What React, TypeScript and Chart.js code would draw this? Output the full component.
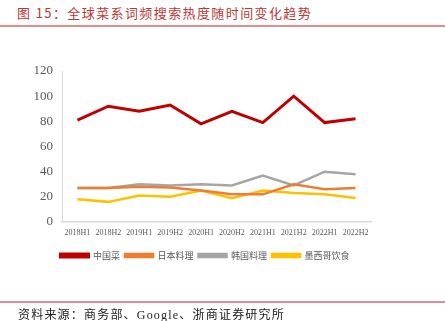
import React, { useEffect, useRef } from "react";
import { Chart, registerables } from "chart.js";

Chart.register(...registerables);

const categories = ["2018H1", "2018H2", "2019H1", "2019H2", "2020H1", "2020H2", "2021H1", "2021H2", "2022H1", "2022H2"];
const chinese = [81, 92, 88, 93, 78, 88, 79, 100, 79, 82];
const japanese = [27, 27, 28, 27.5, 25, 22, 22, 30, 26, 27];
const korean = [27, 27, 30, 29, 30, 29, 37, 29, 40, 38];
const mexican = [18, 16, 21, 20, 25, 19, 25, 23, 22, 19];
const seriesNames = ["中国菜", "日本料理", "韩国料理", "墨西哥饮食"];
const seriesColors = ["#C00000", "#ED7D31", "#A5A5A5", "#FFC000"];

const legendShift = {
  id: "legendShift",
  afterLayout(chart: any) {
    const lg = chart.legend;
    if (lg) {
      lg.left += 39;
      if (typeof lg.adjustHitBoxes === "function") lg.adjustHitBoxes();
    }
  },
};

export default function App() {
  const ref = useRef<HTMLCanvasElement>(null);
  useEffect(() => {
    document.body.style.margin = "0";
    const values = [chinese, japanese, korean, mexican];
    const chart = new Chart(ref.current!, {
      type: "line",
      data: {
        labels: categories,
        datasets: values.map((v, i) => ({
          label: seriesNames[i],
          data: v,
          borderColor: seriesColors[i],
          backgroundColor: seriesColors[i],
          borderWidth: i === 0 ? 3 : 2.5,
          pointRadius: 0,
          tension: 0,
        })),
      },
      plugins: [legendShift],
      options: {
        animation: false,
        responsive: false,
        layout: { padding: { left: 0, right: 74, top: 71, bottom: 51 } },
        plugins: {
          tooltip: { enabled: false },
          legend: {
            position: "bottom",
            labels: {
              boxWidth: 28,
              boxHeight: 3,
              padding: 5,
              color: "#595959",
              font: { family: "'Noto Sans CJK SC'", size: 9 },
            },
          },
        },
        scales: {
          x: {
            offset: true,
            grid: { display: false, drawTicks: false },
            border: { display: true, color: "#D9D9D9", width: 1.5 },
            ticks: {
              color: "#595959",
              padding: 6,
              maxRotation: 0,
              autoSkip: false,
              font: { family: "'Liberation Serif'", size: 8 },
            },
            afterFit: (s: any) => { s.height = 24; },
          },
          y: {
            min: 0,
            max: 120,
            grid: { display: false, drawOnChartArea: false, drawTicks: true, tickLength: 5, color: "#D9D9D9" },
            border: { display: true, color: "#D9D9D9", width: 1 },
            ticks: {
              stepSize: 20,
              color: "#595959",
              padding: 4,
              font: { family: "'Liberation Serif'", size: 13 },
            },
            afterFit: (s: any) => { s.width = 62; },
          },
        },
      },
    });
    return () => chart.destroy();
  }, []);

  return (
    <div style={{ position: "relative", width: 445, height: 321, background: "#fff", overflow: "hidden" }}>
      <div
        style={{
          position: "absolute",
          left: 17,
          top: 3,
          fontFamily: "'Noto Sans CJK SC'",
          fontSize: 13,
          letterSpacing: 1.4,
          color: "#B83836",
          lineHeight: "20px",
          whiteSpace: "nowrap",
        }}
      >
        图 15：全球菜系词频搜索热度随时间变化趋势
      </div>
      <div style={{ position: "absolute", left: 0, top: 25, width: 445, height: 2, background: "#E08E8C" }} />
      <canvas ref={ref} width={445} height={321} style={{ position: "absolute", left: 0, top: 0, width: 445, height: 321 }} />
      <div style={{ position: "absolute", left: 0, top: 301, width: 445, height: 2, background: "#E08E8C" }} />
      <div
        style={{
          position: "absolute",
          left: 18,
          top: 307,
          fontFamily: "'Liberation Serif', 'Noto Sans CJK SC'",
          fontSize: 12,
          letterSpacing: 1.2,
          color: "#222",
          lineHeight: "16px",
          whiteSpace: "nowrap",
        }}
      >
        资料来源：商务部、Google、浙商证券研究所
      </div>
    </div>
  );
}
